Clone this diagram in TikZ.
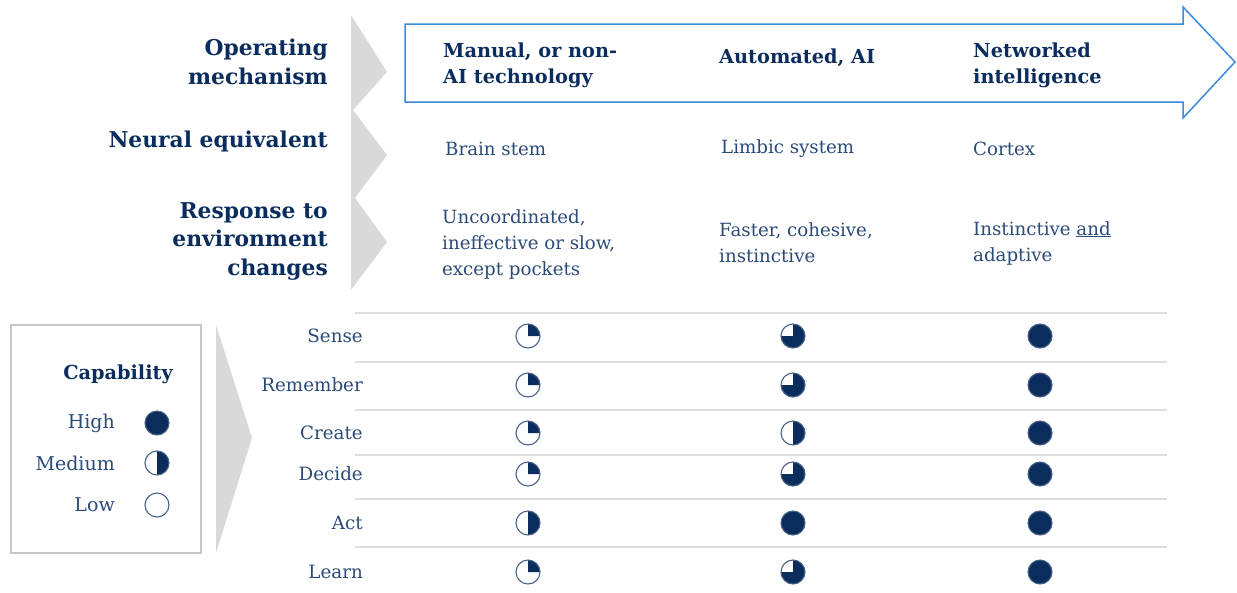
\documentclass[tikz,border=0pt]{standalone}
\usepackage{fontspec}
\setmainfont{DejaVu Serif}
\usetikzlibrary{positioning}

\definecolor{navy}{HTML}{0B2D5E}
\definecolor{inknavy}{HTML}{2A4A78}
\definecolor{chevgray}{HTML}{D9D9D9}
\definecolor{rulegray}{HTML}{DEDEDE}
\definecolor{arrowblue}{HTML}{3A8BE0}

\tikzset{
  head/.style={font=\fontsize{21.8}{28.5}\selectfont\bfseries, text=navy, align=right, anchor=east, inner sep=0pt},
  colhead/.style={font=\fontsize{19.3}{26}\selectfont\bfseries, text=navy, align=left, anchor=west, inner sep=0pt},
  body/.style={font=\fontsize{18.2}{26}\selectfont, text=inknavy, align=left, anchor=west, inner sep=0pt},
  rowlabel/.style={font=\fontsize{18.3}{20}\selectfont, text=inknavy, anchor=east, inner sep=0pt},
  chev/.style={fill=chevgray, draw=none},
  rowrule/.style={draw=rulegray, line width=1.6pt},
  hball/.pic={
    \fill[white] (0,0) circle[radius=12pt];
    \ifnum#1>0 \fill[navy] (0,0) -- (0,12pt) arc[start angle=90, end angle={90-90*#1}, radius=12pt] -- cycle; \fi
    \draw[navy!75, line width=1.1pt] (0,0) circle[radius=12pt];
  }
}

\begin{document}
\begin{tikzpicture}[x=1pt, y=1pt]
\useasboundingbox (0,0) rectangle (1237,-592);

% chevrons
\fill[chev] (351,-15) -- (387,-72) -- (353,-110) -- (387,-155) -- (355,-198) -- (387,-242) -- (351,-290) -- cycle;
\fill[chev] (216,-325) -- (252,-438) -- (216,-553) -- cycle;

% blue arrow
\draw[arrowblue, line width=1.5pt, line join=miter] (405,-24) -- (1183,-24) -- (1183,-7) -- (1235,-62) -- (1183,-118) -- (1183,-102) -- (405,-102) -- cycle;

% row headings
\node[head] (mech) at (328,-62) {Operating\\mechanism};
\node[head] (neural) at (328,-141) {Neural equivalent};
\node[head] (resp) at (328,-241) {Response to\\environment\\changes};

% columns
\node[colhead] (manual) at (443,-65) {Manual, or non-\\AI technology};
\node[colhead] (auto) at (719,-58) {Automated, AI};
\node[colhead] (net) at (973,-65) {Networked\\intelligence};

\node[body] (brain) at (445,-149) {Brain stem};
\node[body] (limbic) at (721,-149) {Limbic system};
\node[body] (cortex) at (973,-149) {Cortex};

\node[body] (uncoord) at (442,-244) {Uncoordinated,\\ineffective or slow,\\except pockets};
\node[body] (faster) at (719,-243) {Faster, cohesive,\\instinctive};
\node[body] (instinct) at (973,-243) {Instinctive \underline{and}\\adaptive};

% legend
\draw[draw=black!22, line width=1.2pt] (11,-325) rectangle (201,-553);
\node[colhead, anchor=center, font=\fontsize{19.3}{20}\selectfont\bfseries] (cap) at (118,-374) {Capability};
\node[rowlabel, font=\fontsize{19}{20}\selectfont] (high) at (115,-423) {High};
\node[rowlabel, font=\fontsize{19}{20}\selectfont] (medium) at (115,-463) {Medium};
\node[rowlabel, font=\fontsize{19}{20}\selectfont] (low) at (115,-505) {Low};
\pic at (157,-423) {hball=4};
\pic at (157,-463) {hball=2};
\pic at (157,-505) {hball=0};

% table
\foreach \yy in {313,362,410,455,499,547}
  \draw[rowrule] (355,-\yy) -- (1167,-\yy);
\foreach \lab/\yy/\a/\b/\c in {Sense/336/1/3/4, Remember/385/1/3/4, Create/433/1/2/4, Decide/474/1/3/4, Act/523/2/4/4, Learn/572/1/3/4}{
  \node[rowlabel] (row-\lab) at (363,-\yy) {\lab};
  \pic at (528,-\yy) {hball=\a};
  \pic at (793,-\yy) {hball=\b};
  \pic at (1040,-\yy) {hball=\c};
}
\end{tikzpicture}
\end{document}
